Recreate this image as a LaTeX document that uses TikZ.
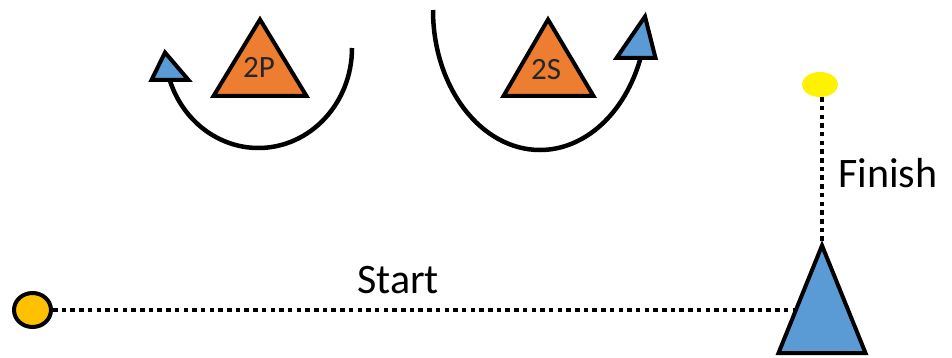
\documentclass[tikz,border=0pt]{standalone}
\usepackage{fontspec}
\setmainfont{Carlito}
\usetikzlibrary{shapes.geometric}
\definecolor{orng}{HTML}{ED7D31}
\definecolor{blu}{HTML}{5B9BD5}
\definecolor{ylw}{HTML}{FFF200}
\definecolor{gold}{HTML}{FFC000}
\definecolor{txt}{HTML}{262626}
\tikzset{
  tri/.style={draw=black, line width=4pt, line join=miter},
  dotline/.style={line width=4.5pt, dash pattern=on 4.5pt off 4.2pt},
  curve/.style={line width=4.5pt, line cap=butt},
  big/.style={font=\fontsize{42}{50}\selectfont, text=black, inner sep=0pt},
  lab/.style={font=\fontsize{31}{36}\selectfont, text=txt, inner sep=0pt}
}
\begin{document}
\begin{tikzpicture}[x=1pt,y=1pt]
\useasboundingbox (0,0) rectangle (952,-358);
% orange triangles
\draw[tri, fill=orng] (260,-19.5) -- (306.5,-96) -- (213.5,-96) -- cycle;
\draw[tri, fill=orng] (548,-19.5) -- (593.5,-96) -- (503.5,-96) -- cycle;
\node[lab, anchor=base west] (t2p) at (243,-78) {2P};
\node[lab, anchor=base west] (t2s) at (531,-80) {2S};
% curves
\draw[curve] (352,-48) arc[start angle=0, end angle=-160.7, x radius=93.6, y radius=100] coordinate (lend);
\draw[curve] (433,-10) arc[start angle=180, end angle=340, x radius=107, y radius=140] coordinate (rend);
% small blue triangles
\draw[tri, fill=blu] (165,-52.5) -- (188.5,-80) -- (151.5,-80) -- cycle;
\draw[tri, fill=blu] (645,-16.5) -- (655.5,-58) -- (616.5,-58) -- cycle;
% start / finish
\node[draw=black, line width=4pt, fill=gold, ellipse, minimum width=37pt, minimum height=34pt, inner sep=0pt] (start) at (32.5,-310) {};
\node[fill=ylw, ellipse, minimum width=36pt, minimum height=25pt, inner sep=0pt] (finish) at (820,-84.5) {};
\draw[tri, fill=blu] (822,-245.5) -- (865.5,-353) -- (778.5,-353) -- cycle;
\coordinate (apex) at (822,-241);
\coordinate (edge) at (795.5,-310);
\draw[dotline] (start.east) -- (edge);
\draw[dotline] (finish.south -| apex) -- (apex);
\node[big, anchor=base west] (lstart) at (357,-293) {Start};
\node[big, anchor=base west] (lfinish) at (838,-187) {Finish};
\end{tikzpicture}
\end{document}
